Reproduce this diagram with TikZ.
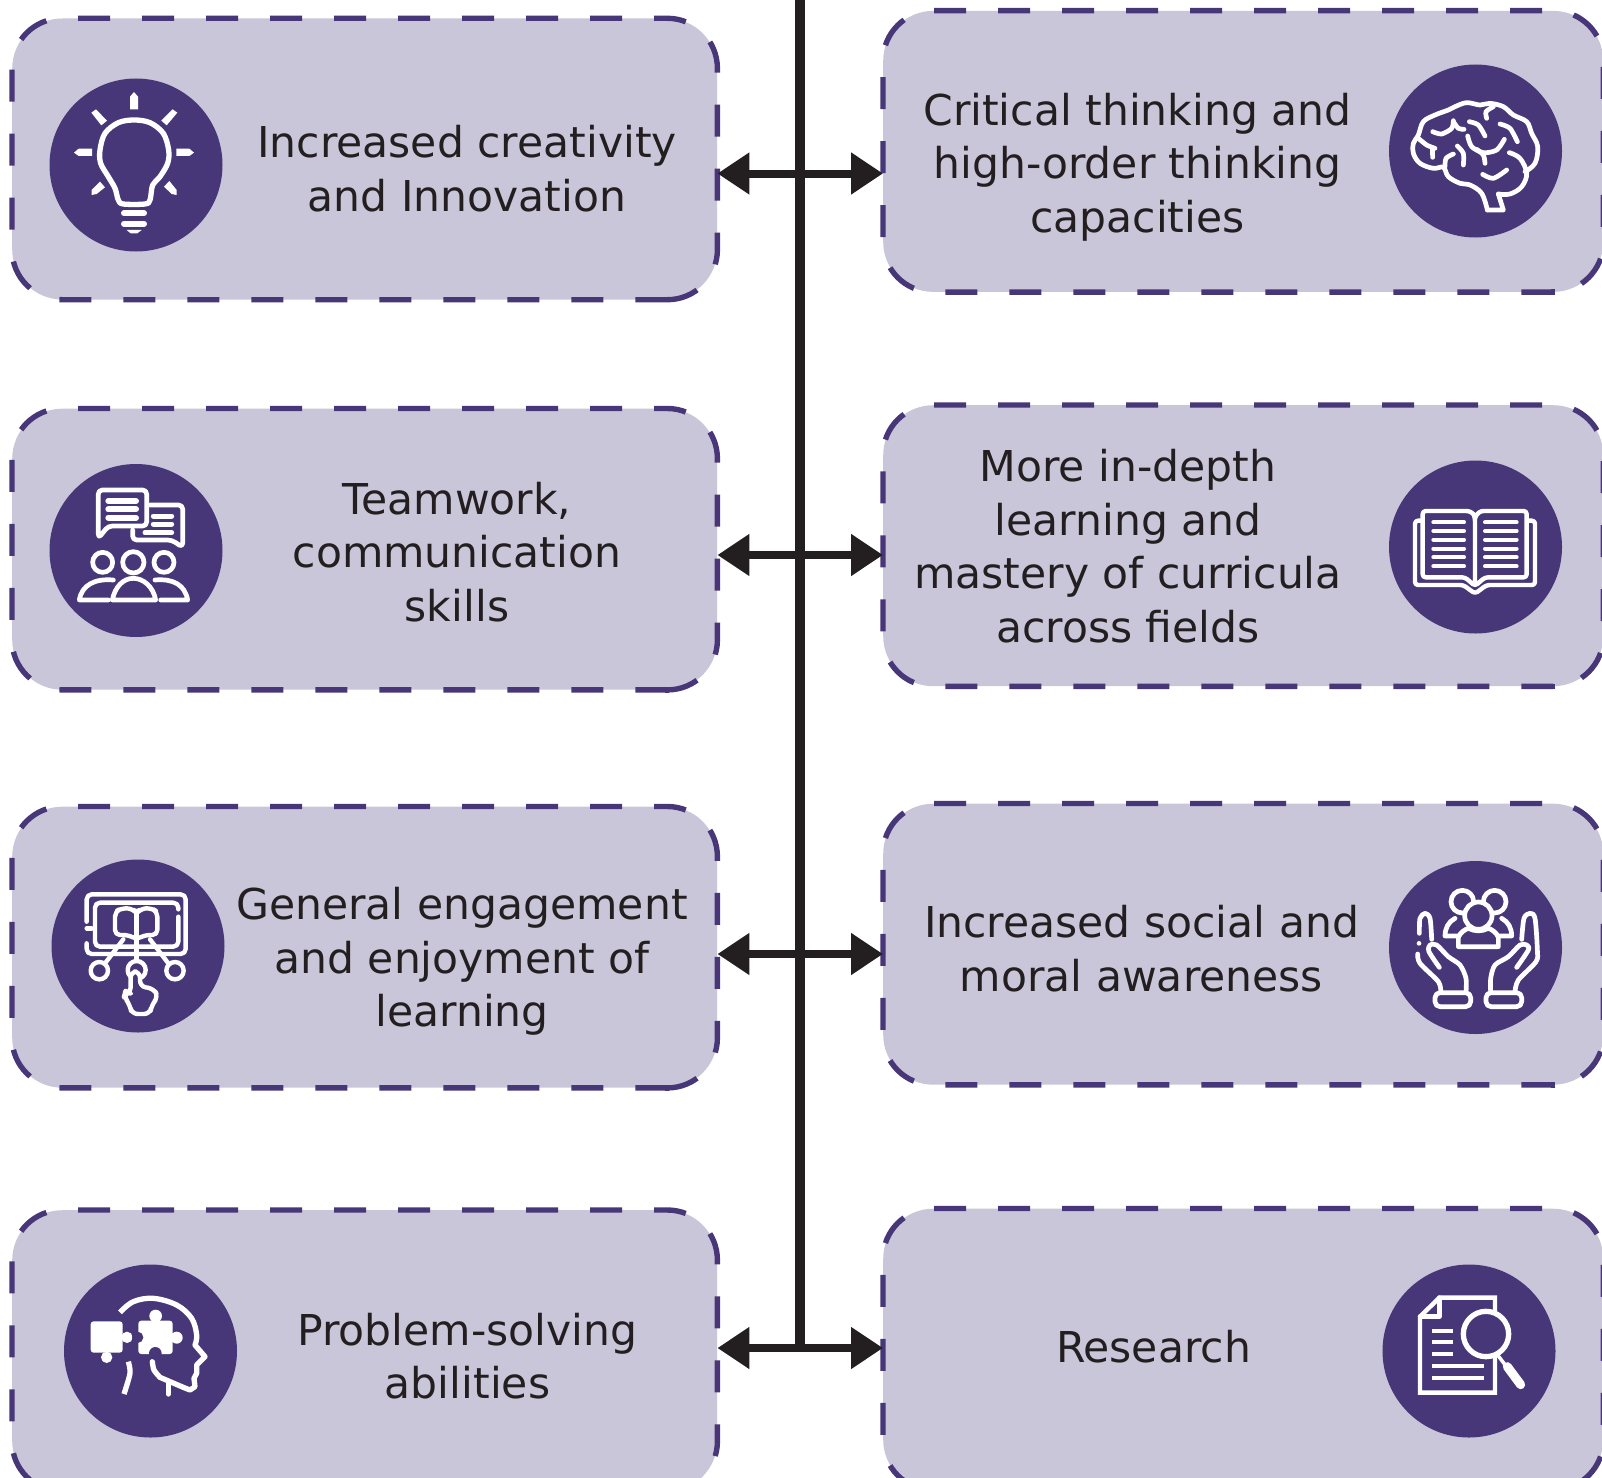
\documentclass[tikz,border=0pt]{standalone}
\usepackage{fontspec}
\setmainfont{DejaVu Sans}
\usetikzlibrary{arrows.meta,calc}
\definecolor{boxfill}{HTML}{CAC6D9}
\definecolor{boxline}{HTML}{483778}
\definecolor{ink}{HTML}{231F20}
\tikzset{
  boxnode/.style={rectangle,rounded corners=50pt,fill=boxfill,draw=none,inner sep=0pt,anchor=north west,minimum height=281pt},
  leftbox/.style={boxnode,minimum width=705pt},
  rightbox/.style={boxnode,minimum width=720pt},
  boxedge/.style={draw=boxline,line width=5.4pt,dash pattern=on 32pt off 32pt},
  boxseam/.style={draw=boxline,line width=5.4pt},
  disc/.style={circle,fill=boxline,draw=none,minimum size=173pt,inner sep=0pt},
  lab/.style={align=center,text=ink,font=\fontsize{42.5}{53.6}\selectfont,inner sep=0pt},
  spine/.style={draw=ink,line width=9.5pt},
  arr/.style={draw=ink,line width=8pt,-{Triangle[length=32pt,width=40pt]},shorten >=0pt},
  ic/.style={draw=white,line width=4.7pt,line cap=round,line join=round},
}
\newcommand{\edgeof}[1]{%
  \draw[boxedge] ([xshift=-50pt]#1.south east) -- ([xshift=50pt]#1.south west)
    arc[start angle=270,end angle=180,radius=50pt]
    -- ([yshift=-50pt]#1.north west)
    arc[start angle=180,end angle=90,radius=50pt]
    -- ([xshift=-50pt]#1.north east)
    arc[start angle=90,end angle=0,radius=50pt]
    -- ([yshift=50pt]#1.south east)
    arc[start angle=0,end angle=-90,radius=50pt];
  \draw[boxseam] ([xshift=-48pt]#1.south east) -- ([xshift=-52pt]#1.south east);}
\begin{document}
\begin{tikzpicture}[x=1pt,y=-1pt]
\useasboundingbox (0,0) rectangle (1602,1477);
\begin{scope}
\clip (0,0) rectangle (1602,1477);
% boxes
\node[leftbox] (L1) at (12,18.3) {};
\node[leftbox] (L2) at (12,408.5) {};
\node[leftbox] (L3) at (12,806.5) {};
\node[leftbox] (L4) at (12,1210) {};
\node[rightbox] (R1) at (883,10.7) {};
\node[rightbox] (R2) at (883,405) {};
\node[rightbox] (R3) at (883,803.5) {};
\node[rightbox] (R4) at (883,1208.5) {};
\foreach \b in {L1,L2,L3,L4,R1,R2,R3,R4} {\edgeof{\b}}
% discs
\node[disc] (dL1) at (136,165) {};
\node[disc] (dL2) at (136,550.5) {};
\node[disc] (dL3) at (138,946) {};
\node[disc] (dL4) at (150.5,1351) {};
\node[disc] (dR1) at (1475.5,151) {};
\node[disc] (dR2) at (1475.5,547) {};
\node[disc] (dR3) at (1475.5,947.5) {};
\node[disc] (dR4) at (1469,1351) {};
\end{scope}
% labels
\node[lab] (tL1) at (467,168.5) {Increased creativity\\and Innovation};
\node[lab] (tL2) at (457,552) {Teamwork,\\communication\\skills};
\node[lab] (tL3) at (462,961.5) {General engagement\\and enjoyment of\\learning};
\node[lab] (tL4) at (467.5,1356) {Problem-solving\\abilities};
\node[lab] (tR1) at (1137.5,167) {Critical thinking and\\high-order thinking\\capacities};
\node[lab] (tR2) at (1128,546) {More in-depth\\learning and\\mastery of curricula\\across fields};
\node[lab] (tR3) at (1141.5,948.5) {Increased social and\\moral awareness};
\node[lab] (tR4) at (1153.5,1347) {Research};
% spine and arrows
\coordinate (top) at (800,0);
\coordinate (j1) at (800,173.5);
\coordinate (j2) at (800,555);
\coordinate (j3) at (800,954);
\coordinate (j4) at (800,1348);
\draw[spine] (top) -- (j4);
\foreach \i/\l/\r in {1/L1/R1,2/L2/R2,3/L3/R3,4/L4/R4}{
  \draw[arr] (j\i) -- (j\i -| \l.east);
  \draw[arr] (j\i) -- (j\i -| \r.west);
}
% bulb
\begin{scope}[scale=1/3]
\fill[white] (390,328)--(390,290)--(402,276)--(414,290)--(414,328)--cycle;
\fill[white] (274,338)--(288,328)--(321,362)--(304,376)--cycle;
\fill[white] (532,338)--(518,328)--(484,362)--(500,376)--cycle;
\fill[white] (222,458)--(236,446)--(276,446)--(276,468)--(236,468)--cycle;
\fill[white] (582,458)--(568,446)--(529,446)--(529,468)--(568,468)--cycle;
\fill[white] (275,585)--(275,570)--(300,545)--(315,562)--(290,582)--cycle;
\fill[white] (530,585)--(530,570)--(508,543)--(492,560)--(515,582)--cycle;
\draw[ic,line width=5.3pt] plot[smooth cycle,tension=.55] coordinates {(355,600)(345,565)(325,530)(302,490)(300,450)(315,400)(355,368)(402,360)(450,368)(490,400)(506,450)(503,490)(480,530)(458,555)(450,600)(435,612)(370,612)};
\draw[ic,line width=6pt] (372,640)--(432,640);
\draw[ic,line width=6pt] (372,671)--(432,671);
\fill[white] (380,690)--(425,690)--(412,700)--(392,700)--cycle;
\end{scope}
% brain
\begin{scope}[shift={(1370,50)},scale=1/3]
\draw[ic] plot[smooth,tension=.6] coordinates {(465,365)(495,340)(503,290)(485,250)(470,215)(430,195)(400,170)(360,160)(330,165)(290,158)(255,170)(235,180)(195,195)(160,215)(145,255)(130,280)(130,310)(150,340)(190,355)(220,352)(235,380)(270,400)(300,405)(335,430)(352,480)};
\draw[ic] (352,480)--(400,480)--(385,432);
\draw[ic] plot[smooth,tension=.6] coordinates {(385,432)(420,432)(455,410)(470,370)(450,325)(418,308)};
\draw[ic] plot[smooth] coordinates {(145,265)(170,285)(195,295)};
\draw[ic] (187,296)--(188,322);
\draw[ic] plot[smooth] coordinates {(188,245)(215,252)(245,235)(250,212)};
\draw[ic] plot[smooth] coordinates {(250,215)(265,235)(282,238)};
\draw[ic] plot[smooth] coordinates {(298,215)(325,225)(345,258)};
\draw[ic] plot[smooth] coordinates {(350,205)(348,185)(370,170)};
\draw[ic] plot[smooth] coordinates {(390,222)(420,235)(442,275)};
\draw[ic] plot[smooth] coordinates {(293,258)(305,290)(340,308)(380,300)(403,268)};
\draw[ic] plot[smooth] coordinates {(320,298)(340,315)(345,340)};
\draw[ic] plot[smooth] coordinates {(262,288)(280,310)(280,345)};
\draw[ic] plot[smooth] coordinates {(225,350)(228,325)(250,312)};
\draw[ic] plot[smooth] coordinates {(338,373)(370,385)(410,360)};
\end{scope}
% people
\begin{scope}[shift={(40,450)},scale=1/3]
\begin{scope}[rounded corners=4pt]
\draw[ic] (175,265)--(175,120)--(320,120)--(320,228)--(205,228)--cycle;
\draw[ic] (330,165)--(428,165)--(428,292)--(395,270)--(278,270)--(278,240);
\end{scope}
\foreach \y in {153,178,203}{\draw[ic,line width=6pt] (205,\y)--(288,\y);}
\draw[ic,line width=5pt] (340,198)--(395,198);
\draw[ic,line width=5pt] (340,222)--(395,222);
\draw[ic,line width=5pt] (315,248)--(395,248);
\draw[ic] (188,337) circle (30);
\draw[ic] (280,337) circle (32);
\draw[ic] (372,337) circle (30);
\draw[ic] (220,390) .. controls (165,385) and (125,405) .. (118,450) -- (205,450);
\draw[ic] (217,450) .. controls (225,410) and (250,385) .. (280,385) .. controls (310,385) and (340,410) .. (347,450) -- cycle;
\draw[ic] (345,390) .. controls (400,385) and (435,405) .. (443,450) -- (362,450);
\end{scope}
% book
\begin{scope}[shift={(1380,450)},scale=1/3]
\begin{scope}[rounded corners=3pt]
\draw[ic,line width=4.4pt] (285,395)--(285,205) .. controls (280,190) and (270,183) .. (250,183) -- (128,183)--(128,382)--(255,382)--(285,408)--(315,382)--(440,382)--(440,183)--(320,183) .. controls (300,183) and (290,190) .. (285,205);
\draw[ic,line width=4.4pt] (122,212)--(105,212)--(105,405)--(250,405)--(285,431)--(320,405)--(465,405)--(465,212)--(447,212);
\end{scope}
\foreach \y in {217,243,269,296,322,349}{
  \draw[ic,line width=4pt] (160,\y)--(252,\y);
  \draw[ic,line width=4pt] (315,\y)--(410,\y);
}
\end{scope}
% tablet
\begin{scope}[shift={(40,850)},scale=1/3]
\begin{scope}[rounded corners=5pt]
\draw[ic,line width=4.4pt] (140,215)--(140,133)--(437,133)--(437,312)--(140,312)--(140,280);
\draw[ic,line width=4.4pt] (415,178)--(415,158)--(165,158)--(165,290)--(415,290)--(415,200);
\end{scope}
\draw[ic,line width=4.4pt] (140,235)--(155,235);
\begin{scope}[rounded corners=5pt]
\draw[ic,line width=4.4pt,fill=boxline] (225,255)--(225,185)--(245,175)--(275,175)--(290,190)--(305,175)--(335,175)--(352,185)--(352,255)--(315,255)--(290,268)--(265,255)--cycle;
\end{scope}
\draw[ic,line width=4.4pt] (290,190)--(290,330);
\draw[ic,line width=4.4pt] (250,268)--(195,340);
\draw[ic,line width=4.4pt] (330,268)--(385,340);
\draw[ic,line width=4.4pt] (178,362) circle (26);
\draw[ic,line width=4.4pt] (405,362) circle (26);
\draw[ic,line width=4.4pt,fill=boxline] (290,360) circle (27);
\begin{scope}[rounded corners=6pt]
\draw[ic,line width=4.4pt,fill=boxline] (272,430)--(272,365)--(300,365)--(300,410)--(340,415)--(355,440)--(335,465)--(330,492)--(275,492)--(270,465)--(252,440)--(256,425)--cycle;
\end{scope}
\end{scope}
% hands
\begin{scope}[shift={(1380,850)},scale=1/3]
\draw[ic] (247,155) circle (34);
\draw[ic] (344,155) circle (34);
\draw[ic] (225,205) .. controls (205,215) and (195,235) .. (195,258) -- (235,258);
\draw[ic] (365,205) .. controls (385,215) and (395,235) .. (395,258) -- (355,258);
\draw[ic,fill=boxline] (295,197) circle (41);
\draw[ic,fill=boxline] (235,290)--(235,262) .. controls (240,248) and (255,238) .. (265,235) .. controls (285,245) and (305,245) .. (325,235) .. controls (335,238) and (350,248) .. (355,262) -- (355,290) -- cycle;
\draw[ic] plot[smooth,tension=.5] coordinates {(155,268)(150,205)(135,190)(120,205)(118,250)};
\fill[white] (117,280) circle (7);
\draw[ic] plot[smooth,tension=.5] coordinates {(113,312)(120,340)(175,395)(182,425)};
\draw[ic] plot[smooth,tension=.5] coordinates {(178,352)(147,305)(150,285)(170,285)(205,320)(240,345)(258,385)(258,425)};
\draw[ic,rounded corners=5pt] (165,428) rectangle (272,470);
\draw[ic] plot[smooth,tension=.5] coordinates {(425,268)(432,205)(450,190)(465,205)(472,300)(468,335)(415,390)(405,425)};
\draw[ic] plot[smooth,tension=.5] coordinates {(410,352)(445,300)(440,285)(420,285)(385,320)(345,345)(332,385)(332,425)};
\draw[ic,rounded corners=5pt] (318,428) rectangle (425,470);
\end{scope}
% head with puzzle
\begin{scope}[shift={(50,1250)},scale=1/3]
\draw[ic,line width=5.3pt,line cap=butt] plot[smooth,tension=.6] coordinates {(210,187)(250,155)(310,145)(380,165)(425,205)(440,255)(435,285)};
\draw[ic,line width=5.3pt] (435,285)--(465,320)--(440,345)--(440,370)--(432,385)--(435,410)--(420,420)--(400,412)--(330,382);
\draw[ic,line width=5.3pt] plot[smooth] coordinates {(330,382)(312,360)(307,335)};
\draw[ic,line width=5.3pt] (355,400)--(355,432);
\draw[ic,line width=5.3pt,line cap=butt] plot[smooth] coordinates {(235,335)(240,370)(222,432)};
\fill[white,rounded corners=3pt] (122,214) rectangle (218,308);
\fill[white] (231,262) circle (17);
\fill[white] (170,322) circle (17);
\fill[white,rounded corners=3pt] (265,212) rectangle (368,312);
\fill[white] (317,198) circle (19);
\fill[white] (380,263) circle (18);
\fill[boxline] (263,262) circle (17);
\fill[boxline] (316,310) circle (19);
\end{scope}
% document
\begin{scope}[shift={(1370,1250)},scale=1/3]
\draw[ic,line width=4.4pt,line join=miter] (375,180)--(375,143)--(208,143)--(150,200)--(150,428)--(375,428)--(375,325);
\draw[ic,line width=4.4pt] (208,143)--(208,200)--(150,200);
\foreach \y in {243,276,311}{\draw[ic,line width=4pt,line cap=butt] (187,\y)--(248,\y);}
\foreach \y in {348,384}{\draw[ic,line width=4pt,line cap=butt] (187,\y)--(342,\y);}
\draw[ic,line width=5.3pt] (348,252) circle (68);
\draw[ic,line width=3.5pt] (385,318)--(408,348);
\draw[ic,line width=9pt] (412,350)--(452,404);
\end{scope}
\end{tikzpicture}
\end{document}
